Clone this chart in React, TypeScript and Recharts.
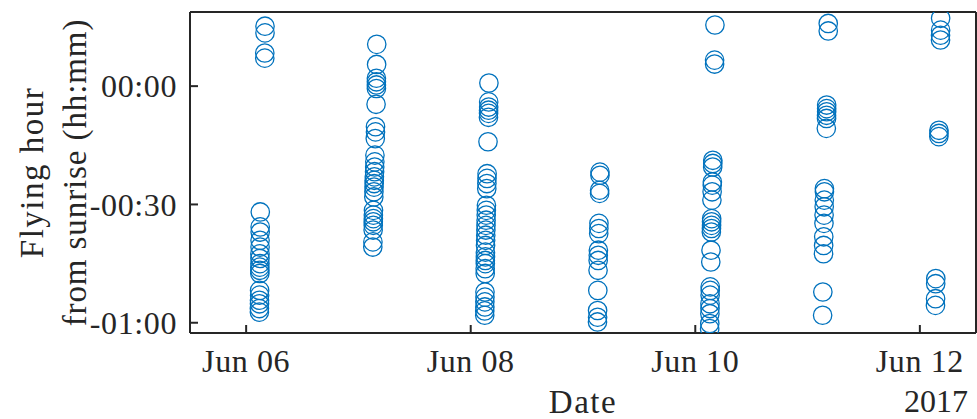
import { ScatterChart, Scatter, XAxis, YAxis } from "recharts";

// [day of June 2017 (fractional), minutes from sunrise]
const jun06: [number, number][] = [
  [6.168, 15.2], [6.168, 13.5], [6.166, 8.4], [6.166, 7.1],
  [6.126, -31.9], [6.125, -35.7], [6.125, -37.0], [6.124, -39.1], [6.124, -40.8],
  [6.123, -42.5], [6.123, -43.7], [6.123, -45.0], [6.122, -45.9], [6.122, -46.7],
  [6.122, -47.5], [6.12, -51.8], [6.12, -53.0], [6.119, -54.3], [6.119, -55.2],
  [6.118, -56.4], [6.118, -57.3],
];
const jun07: [number, number][] = [
  [7.163, 10.6], [7.162, 5.5], [7.16, 2.0], [7.16, 1.1], [7.16, 0.3], [7.16, -0.6],
  [7.157, -4.6], [7.152, -10.3], [7.152, -11.6], [7.15, -13.3], [7.147, -17.5],
  [7.146, -19.2], [7.145, -20.5], [7.144, -21.7], [7.142, -23.0], [7.141, -23.9],
  [7.14, -24.7], [7.139, -25.6], [7.138, -26.8], [7.137, -28.1], [7.134, -31.5],
  [7.133, -32.7], [7.133, -33.6], [7.132, -34.4], [7.132, -35.3], [7.131, -36.5],
  [7.129, -39.5], [7.128, -40.8],
];
const jun08: [number, number][] = [
  [8.162, 0.8], [8.16, -4.0], [8.16, -5.3], [8.159, -6.1], [8.159, -6.9], [8.158, -7.9],
  [8.154, -14.1], [8.146, -22.2], [8.145, -23.4], [8.144, -24.7], [8.143, -26.0],
  [8.14, -30.2], [8.139, -31.5], [8.138, -32.7], [8.137, -34.0], [8.136, -35.3],
  [8.135, -36.5], [8.134, -37.8], [8.133, -39.1], [8.132, -40.4], [8.131, -42.1],
  [8.131, -43.3], [8.13, -44.2], [8.13, -45.0], [8.129, -46.3], [8.129, -47.5],
  [8.127, -52.2], [8.127, -53.5], [8.126, -54.7], [8.126, -56.0], [8.125, -57.0],
  [8.125, -58.1],
];
const jun09: [number, number][] = [
  [9.151, -21.8], [9.151, -22.6], [9.148, -26.4], [9.148, -27.2], [9.142, -34.8],
  [9.141, -36.1], [9.14, -37.4], [9.137, -41.6], [9.136, -42.9], [9.135, -44.2],
  [9.134, -46.7], [9.132, -51.8], [9.13, -56.9], [9.13, -58.6], [9.129, -59.8],
];
const jun10: [number, number][] = [
  [10.175, 15.5], [10.172, 6.6], [10.172, 5.6], [10.156, -18.8], [10.156, -19.6],
  [10.155, -20.5], [10.152, -24.3], [10.151, -25.1], [10.15, -26.8], [10.148, -28.9],
  [10.146, -33.6], [10.145, -34.4], [10.145, -35.3], [10.144, -36.1], [10.143, -37.0],
  [10.14, -41.6], [10.138, -44.6], [10.133, -50.9], [10.133, -51.8], [10.132, -53.0],
  [10.131, -55.2], [10.131, -56.4], [10.13, -57.7], [10.129, -60.2], [10.128, -61.5],
];
const jun11: [number, number][] = [
  [11.184, 15.9], [11.184, 14.0], [11.17, -4.8], [11.17, -5.7], [11.17, -6.5],
  [11.169, -7.4], [11.169, -8.2], [11.167, -10.7], [11.15, -26.0], [11.15, -26.8],
  [11.149, -28.9], [11.148, -30.6], [11.147, -32.7], [11.146, -34.8], [11.144, -38.2],
  [11.143, -40.4], [11.142, -42.5], [11.136, -52.2], [11.134, -58.1],
];
const jun12: [number, number][] = [
  [12.185, 17.2], [12.185, 14.2], [12.184, 12.9], [12.184, 11.7], [12.17, -11.2],
  [12.17, -12.0], [12.169, -12.8], [12.142, -48.8], [12.141, -50.1], [12.14, -53.9],
  [12.139, -55.6],
];

const xTicks = [6, 8, 10, 12];
const xTickLabels = ["Jun 06", "Jun 08", "Jun 10", "Jun 12"];
const yTicks = [-60, -30, 0];
const yTickLabels = ["-01:00", "-00:30", "00:00"];

const points = [jun06, jun07, jun08, jun09, jun10, jun11, jun12]
  .flat()
  .map(([d, m]) => ({ x: d, y: m }));

const FONT = "'Liberation Serif', 'Times New Roman', serif";
const INK = "#262626";
const BLUE = "#0072BD";
const axisLine = { stroke: INK, strokeWidth: 2 };
const tickLine = { stroke: INK, strokeWidth: 2 };
const tickStyle = { fill: INK, fontSize: 32, fontFamily: FONT, letterSpacing: 0.6 };

function Ring(props: any) {
  return (
    <circle cx={props.cx} cy={props.cy} r={9.2} fill="none" stroke={BLUE} strokeWidth={1.3} />
  );
}

function XTitle(props: any) {
  const vb = props.viewBox;
  return (
    <g fontFamily={FONT} fontSize={33} fill={INK}>
      <text x={vb.x + vb.width / 2} y={413} textAnchor="middle" letterSpacing={1.5}>Date</text>
      <text x={968} y={412} textAnchor="end" fontSize={32}>2017</text>
    </g>
  );
}

function YTitle(props: any) {
  const vb = props.viewBox;
  const cy = vb.y + vb.height / 2;
  return (
    <g fontFamily={FONT} fontSize={33} fill={INK}>
      <text x={43} y={cy} textAnchor="middle" letterSpacing={1.5} transform={`rotate(-90 43 ${cy})`}>Flying hour</text>
      <text x={86} y={cy} textAnchor="middle" letterSpacing={0.9} transform={`rotate(-90 86 ${cy})`}>from sunrise (hh:mm)</text>
    </g>
  );
}

export default function App() {
  return (
    <div style={{ position: "fixed", left: 0, top: 0, width: 977, height: 419, background: "#fff" }}>
      <ScatterChart width={977} height={419} margin={{ top: 11, right: 0, bottom: 0, left: 0 }}>
        <XAxis
          xAxisId={0}
          dataKey="x"
          type="number"
          domain={[5.5, 12.5]}
          allowDataOverflow
          ticks={xTicks}
          tickFormatter={(v: number) => xTickLabels[xTicks.indexOf(v)]}
          height={86}
          tickSize={-8}
          tickMargin={24}
          axisLine={axisLine}
          tickLine={tickLine}
          tick={tickStyle}
          label={{ content: XTitle }}
        />
        <XAxis
          xAxisId="top"
          orientation="top"
          type="number"
          domain={[5.5, 12.5]}
          allowDataOverflow
          ticks={xTicks}
          height={1}
          tickSize={-8}
          axisLine={axisLine}
          tickLine={tickLine}
          tick={false}
        />
        <YAxis
          yAxisId={0}
          dataKey="y"
          type="number"
          domain={[-62.6, 18.8]}
          allowDataOverflow
          ticks={yTicks}
          tickFormatter={(v: number) => yTickLabels[yTicks.indexOf(v)]}
          width={190}
          tickSize={-8}
          tickMargin={21}
          axisLine={axisLine}
          tickLine={tickLine}
          tick={tickStyle}
          label={{ content: YTitle }}
        />
        <YAxis
          yAxisId="right"
          orientation="right"
          type="number"
          domain={[-62.6, 18.8]}
          allowDataOverflow
          ticks={yTicks}
          width={1}
          tickSize={-8}
          axisLine={axisLine}
          tickLine={tickLine}
          tick={false}
        />
        <Scatter data={points} shape={Ring} isAnimationActive={false} />
      </ScatterChart>
    </div>
  );
}
